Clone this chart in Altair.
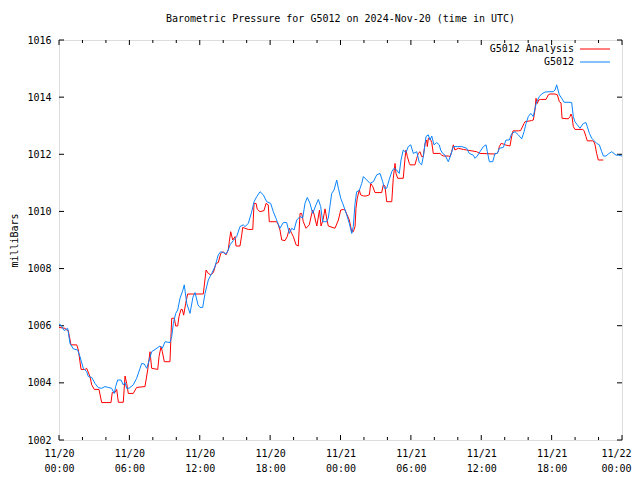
import altair as alt
import pandas as pd

TITLE = "Barometric Pressure for G5012 on 2024-Nov-20 (time in UTC)"
Y_TITLE = "milliBars"
FONT = "DejaVu Sans Mono"

# x axis: hours since 2024-11-20 00:00 UTC
X_TICK_HOURS = [0, 6, 12, 18, 24, 30, 36, 42, 48]
X_TICK_DATES = ["11/20", "11/20", "11/20", "11/20", "11/21", "11/21", "11/21", "11/21", "11/22"]
X_TICK_TIMES = ["00:00", "06:00", "12:00", "18:00", "00:00", "06:00", "12:00", "18:00", "00:00"]
X_MINOR_HOURS = [2, 4, 8, 10, 14, 16, 20, 22, 26, 28, 32, 34, 38, 40, 44, 46]
Y_TICKS = [1002, 1004, 1006, 1008, 1010, 1012, 1014, 1016]

SERIES_NAMES = ["G5012 Analysis", "G5012"]
SERIES_COLORS = ["#ff0000", "#0a84ff"]

analysis_hours = [
    0.00, 0.51, 0.66, 0.79, 1.02, 1.51, 1.65, 1.88, 2.22, 2.36, 2.64, 2.79, 3.01, 3.41, 3.64,
    4.43, 4.54, 4.77, 4.92, 5.06, 5.48, 5.63, 5.77, 5.91, 6.33, 6.62, 7.33, 7.56, 7.76, 7.90,
    8.42, 8.53, 8.70, 8.81, 8.98, 9.46, 9.61, 9.83, 9.95, 10.12, 10.23, 10.40, 10.51, 10.63,
    10.80, 10.97, 12.30, 12.54, 12.73, 12.94, 13.16, 13.39, 13.58, 13.79, 14.01, 14.24, 14.43,
    14.52, 14.64, 14.81, 15.01, 15.09, 15.43, 15.58, 15.66, 15.86, 16.14, 16.52, 16.63, 16.80,
    16.91, 17.14, 17.48, 17.65, 17.84, 17.93, 18.56, 18.70, 18.84, 18.99, 19.27, 19.46, 19.64,
    19.84, 19.98, 20.21, 20.40, 20.55, 20.69, 20.83, 21.06, 21.34, 21.55, 21.63, 21.74, 21.98,
    22.21, 22.34, 22.51, 22.68, 22.85, 22.96, 23.53, 23.82, 24.02, 24.24, 24.39, 24.53, 24.75,
    24.96, 25.09, 25.24, 25.32, 25.43, 25.60, 25.72, 25.95, 26.18, 26.46, 26.58, 26.75, 26.94,
    27.51, 27.65, 27.79, 27.94, 28.37, 28.50, 28.65, 28.73, 28.88, 29.35, 29.50, 29.58, 29.70,
    29.87, 29.93, 30.35, 30.50, 30.63, 30.78, 30.92, 31.06, 31.21, 31.35, 31.40, 31.49, 31.63,
    31.78, 31.91, 32.48, 32.63, 32.77, 33.19, 33.34, 33.48, 33.62, 33.76, 34.04, 34.47, 34.76,
    35.04, 35.61, 35.89, 37.17, 37.32, 37.45, 37.54, 37.69, 37.88, 38.03, 38.45, 38.60, 38.71,
    39.16, 39.36, 39.65, 39.73, 40.30, 40.44, 40.58, 40.67, 40.78, 40.90, 41.07, 41.52, 41.72,
    41.86, 42.29, 42.49, 42.66, 42.80, 42.89, 43.42, 43.57, 43.65, 43.74, 43.85, 43.99, 44.65,
    44.76, 44.93, 45.04, 45.50, 45.61, 45.70, 45.84, 45.98, 46.41,
]
analysis_mb = [
    1005.94, 1005.91, 1005.85, 1005.83, 1005.33, 1005.33, 1005.15, 1004.47, 1004.47, 1004.51,
    1004.22, 1003.93, 1003.77, 1003.77, 1003.31, 1003.31, 1003.66, 1003.66, 1003.77, 1003.32,
    1003.32, 1004.24, 1003.98, 1003.63, 1003.63, 1003.84, 1003.87, 1004.45, 1005.09, 1004.51,
    1004.47, 1004.92, 1005.27, 1005.09, 1004.74, 1004.74, 1006.26, 1006.26, 1005.99, 1005.99,
    1006.32, 1006.57, 1006.57, 1006.37, 1006.78, 1007.11, 1007.11, 1007.95, 1007.83, 1007.78,
    1007.86, 1008.18, 1008.21, 1008.53, 1008.59, 1008.48, 1008.65, 1008.94, 1009.29, 1009.00,
    1009.12, 1008.79, 1008.79, 1009.18, 1009.44, 1009.41, 1009.37, 1009.37, 1010.28, 1010.28,
    1010.07, 1009.99, 1010.03, 1010.28, 1010.23, 1009.64, 1009.64, 1009.53, 1009.35, 1009.00,
    1008.98, 1009.12, 1009.41, 1009.23, 1009.12, 1008.83, 1008.79, 1009.93, 1009.93, 1009.64,
    1009.41, 1009.53, 1009.93, 1010.05, 1009.91, 1009.49, 1010.05, 1009.49, 1009.70, 1010.09,
    1009.70, 1009.49, 1009.41, 1009.70, 1010.05, 1010.07, 1010.05, 1009.91, 1009.70, 1009.29,
    1009.29, 1009.47, 1010.11, 1010.46, 1010.75, 1010.58, 1010.54, 1010.54, 1010.58, 1010.98,
    1010.87, 1010.66, 1010.66, 1010.93, 1010.89, 1010.34, 1010.34, 1011.16, 1011.68, 1011.33,
    1011.16, 1011.16, 1011.86, 1012.15, 1011.92, 1011.68, 1011.63, 1011.63, 1011.86, 1012.03,
    1012.09, 1011.92, 1011.92, 1012.38, 1012.50, 1012.27, 1012.56, 1012.56, 1012.41, 1012.03,
    1012.03, 1011.97, 1011.94, 1011.94, 1011.92, 1012.09, 1012.33, 1012.15, 1012.21, 1012.17,
    1012.15, 1012.13, 1012.09, 1012.03, 1012.01, 1012.03, 1012.09, 1012.27, 1012.38, 1012.36,
    1012.33, 1012.29, 1012.64, 1012.82, 1012.82, 1012.83, 1013.08, 1013.14, 1013.18, 1013.20,
    1013.55, 1013.96, 1013.78, 1013.90, 1013.92, 1013.92, 1014.08, 1014.11, 1014.11, 1014.08,
    1013.84, 1013.80, 1013.26, 1013.24, 1013.32, 1013.41, 1013.32, 1012.97, 1012.87, 1012.87,
    1012.83, 1012.62, 1012.47, 1012.47, 1012.44, 1012.33, 1012.03, 1011.80, 1011.80,
]

obs_hours = [
    0.00, 0.17, 0.45, 0.74, 0.94, 1.22, 1.59, 1.79, 2.07, 2.36, 2.50, 2.79, 3.07, 3.35, 3.64,
    3.92, 4.20, 4.49, 4.71, 4.83, 5.00, 5.29, 5.48, 5.63, 5.77, 5.97, 6.33, 6.62, 6.91, 7.05,
    7.27, 7.48, 7.76, 7.90, 8.19, 8.61, 8.81, 9.04, 9.46, 9.61, 9.75, 9.95, 10.12, 10.32, 10.55,
    10.68, 10.89, 11.17, 11.42, 11.60, 11.85, 12.02, 12.25, 12.45, 12.73, 13.02, 13.30, 13.58,
    13.79, 14.01, 14.24, 14.43, 14.58, 14.86, 15.15, 15.43, 15.71, 15.86, 16.14, 16.43, 16.63,
    16.86, 17.14, 17.42, 17.71, 18.05, 18.27, 18.50, 18.61, 18.84, 19.12, 19.41, 19.64, 19.84,
    20.04, 20.27, 20.55, 20.78, 20.97, 21.17, 21.40, 21.63, 21.91, 22.11, 22.31, 22.48, 22.82,
    22.96, 23.25, 23.45, 23.68, 23.82, 24.02, 24.19, 24.39, 24.53, 24.75, 24.96, 25.09, 25.24,
    25.38, 25.60, 25.81, 25.95, 26.24, 26.52, 26.80, 27.09, 27.37, 27.60, 27.74, 27.94, 28.16,
    28.37, 28.56, 28.79, 29.01, 29.16, 29.35, 29.58, 29.78, 29.99, 30.21, 30.50, 30.72, 30.92,
    31.06, 31.29, 31.49, 31.63, 31.78, 31.97, 32.20, 32.42, 32.54, 32.71, 32.91, 33.19, 33.40,
    33.62, 33.96, 34.33, 34.76, 34.98, 35.32, 35.47, 35.66, 35.89, 36.18, 36.41, 36.52, 36.69,
    36.98, 37.17, 37.37, 37.54, 37.88, 38.11, 38.39, 38.60, 38.88, 39.16, 39.45, 39.65, 39.82,
    40.01, 40.22, 40.44, 40.58, 40.73, 40.95, 41.15, 41.44, 41.86, 42.14, 42.29, 42.43, 42.66,
    42.86, 43.06, 43.57, 43.71, 43.85, 43.99, 44.19, 44.42, 44.70, 44.93, 45.04, 45.22, 45.42,
    45.61, 45.84, 46.07, 46.27, 46.41, 46.64, 46.83, 47.12, 47.49, 47.69, 48.00,
]
obs_mb = [
    1006.06, 1006.02, 1005.83, 1005.91, 1005.38, 1005.19, 1005.15, 1004.92, 1004.51, 1004.39,
    1004.22, 1004.19, 1003.98, 1003.83, 1003.81, 1003.87, 1003.84, 1003.81, 1003.63, 1003.87,
    1004.10, 1004.10, 1003.93, 1004.01, 1003.81, 1003.81, 1003.93, 1004.16, 1004.51, 1004.68,
    1004.66, 1004.51, 1004.89, 1005.09, 1005.17, 1005.29, 1005.21, 1005.44, 1005.41, 1005.62,
    1006.08, 1006.43, 1006.55, 1006.96, 1007.23, 1007.43, 1006.78, 1006.43, 1007.00, 1007.16,
    1006.73, 1006.64, 1006.64, 1007.13, 1007.60, 1007.83, 1008.07, 1008.48, 1008.59, 1008.56,
    1008.51, 1008.65, 1008.83, 1008.98, 1009.12, 1009.47, 1009.53, 1009.47, 1009.58, 1009.99,
    1010.34, 1010.52, 1010.69, 1010.58, 1010.34, 1010.28, 1009.99, 1009.76, 1009.64, 1009.41,
    1009.61, 1009.61, 1009.23, 1009.41, 1009.35, 1009.70, 1009.82, 1009.77, 1010.28, 1010.49,
    1010.28, 1009.93, 1010.23, 1010.42, 1010.17, 1009.64, 1009.64, 1009.77, 1010.63, 1010.75,
    1011.10, 1010.81, 1010.46, 1010.28, 1010.05, 1009.88, 1009.58, 1009.23, 1009.47, 1010.28,
    1010.69, 1010.73, 1010.98, 1011.22, 1011.10, 1010.98, 1011.04, 1011.28, 1011.33, 1011.04,
    1010.81, 1010.81, 1011.12, 1011.39, 1011.51, 1011.45, 1011.33, 1011.80, 1012.15, 1012.06,
    1012.27, 1012.33, 1012.03, 1012.09, 1011.71, 1011.63, 1011.92, 1012.62, 1012.68, 1012.50,
    1012.64, 1012.33, 1012.41, 1012.33, 1012.15, 1012.03, 1011.97, 1011.74, 1011.97, 1012.27,
    1012.27, 1012.27, 1012.21, 1012.03, 1011.97, 1011.86, 1011.94, 1012.09, 1012.27, 1012.33,
    1012.09, 1011.74, 1011.74, 1012.03, 1012.03, 1012.21, 1012.24, 1012.50, 1012.50, 1012.73,
    1012.79, 1012.68, 1012.54, 1012.79, 1013.08, 1013.32, 1013.43, 1013.32, 1013.61, 1013.84,
    1014.02, 1014.11, 1014.18, 1014.19, 1014.19, 1014.25, 1014.43, 1014.08, 1013.96, 1013.82,
    1013.82, 1013.81, 1013.32, 1013.14, 1013.03, 1012.91, 1013.08, 1013.11, 1012.97, 1012.73,
    1012.56, 1012.48, 1012.38, 1012.33, 1012.09, 1011.94, 1011.94, 1012.01, 1012.09, 1011.97,
    1011.97, 1011.94,
]

W, H = 563, 400

lines_df = pd.concat([
    pd.DataFrame({"hour": analysis_hours, "mb": analysis_mb, "series": SERIES_NAMES[0], "order": 0}),
    pd.DataFrame({"hour": obs_hours, "mb": obs_mb, "series": SERIES_NAMES[1], "order": 1}),
], ignore_index=True)

label_expr = "[" + ",".join("['%s','%s']" % (d, t) for d, t in zip(X_TICK_DATES, X_TICK_TIMES)) \
    + "][round(datum.value / 6)]"

x_scale = alt.Scale(domain=[0, 48], nice=False, zero=False)
y_scale = alt.Scale(domain=[1002, 1016], nice=False, zero=False)

x_axis = alt.Axis(values=X_TICK_HOURS, labelExpr=label_expr, title=None, grid=False,
                  ticks=False, tickSize=0, domain=False, labelFont=FONT, labelFontSize=10,
                  labelColor="black", labelPadding=8, labelLineHeight=15,
                  labelFlush=False, labelOverlap=False,
                  labelOffset={"condition": {"test": "datum.value >= 48", "value": -6}, "value": 0})
y_axis = alt.Axis(values=Y_TICKS, format="d", title=Y_TITLE, grid=False, ticks=False,
                  tickSize=0, domain=False, labelFont=FONT, labelFontSize=10,
                  labelColor="black", labelPadding=8, titleFont=FONT, titleFontSize=10,
                  titleFontWeight="normal", titleColor="black", titleAngle=-90,
                  titleX=-45, titleY=H / 2, titleAlign="center", titleBaseline="middle")

X = alt.X("hour:Q", scale=x_scale, axis=x_axis)
Y = alt.Y("mb:Q", scale=y_scale, axis=y_axis)

lines = alt.Chart(lines_df).mark_line(strokeWidth=1, interpolate="linear").encode(
    x=X, y=Y,
    color=alt.Color("series:N", scale=alt.Scale(domain=SERIES_NAMES, range=SERIES_COLORS), legend=None),
    order=alt.Order("order:Q"),
    detail="series:N",
)

major_df = pd.DataFrame({"hour": X_TICK_HOURS})
minor_df = pd.DataFrame({"hour": X_MINOR_HOURS})
ytick_df = pd.DataFrame({"mb": Y_TICKS})

tick_layers = []
for df, L in ((major_df, 5), (minor_df, 3)):
    tick_layers.append(alt.Chart(df).mark_rule(color="black", strokeWidth=1).encode(
        x=X, y=alt.value(H), y2=alt.value(H - L)))
    tick_layers.append(alt.Chart(df).mark_rule(color="black", strokeWidth=1).encode(
        x=X, y=alt.value(0), y2=alt.value(L)))
tick_layers.append(alt.Chart(ytick_df).mark_rule(color="black", strokeWidth=1).encode(
    y=Y, x=alt.value(0), x2=alt.value(5)))
tick_layers.append(alt.Chart(ytick_df).mark_rule(color="black", strokeWidth=1).encode(
    y=Y, x=alt.value(W - 5), x2=alt.value(W)))

title_layer = alt.Chart(pd.DataFrame({"t": [TITLE]})).mark_text(
    align="center", baseline="middle", font=FONT, fontSize=10, color="black").encode(
    x=alt.value(W / 2), y=alt.value(-21), text="t:N")

legend_layers = []
for i, (name, col) in enumerate(zip(SERIES_NAMES, SERIES_COLORS)):
    ldf = pd.DataFrame({"name": [name]})
    legend_layers.append(alt.Chart(ldf).mark_text(align="right", baseline="middle", font=FONT,
                                                  fontSize=10, color="black").encode(
        x=alt.value(515), y=alt.value(9 + 13 * i), text="name:N"))
    legend_layers.append(alt.Chart(ldf).mark_rule(color=col, strokeWidth=1).encode(
        x=alt.value(521), x2=alt.value(551), y=alt.value(9 + 13 * i)))

chart = alt.layer(*tick_layers, lines, title_layer, *legend_layers).properties(
    width=W, height=H,
    autosize=alt.AutoSizeParams(type="none"),
    padding={"left": 51, "top": 32, "right": 10, "bottom": 32},
).configure_view(stroke="black", strokeWidth=1).configure(background="white")

chart.save("out.html", embed_options={"renderer": "svg", "actions": False})
